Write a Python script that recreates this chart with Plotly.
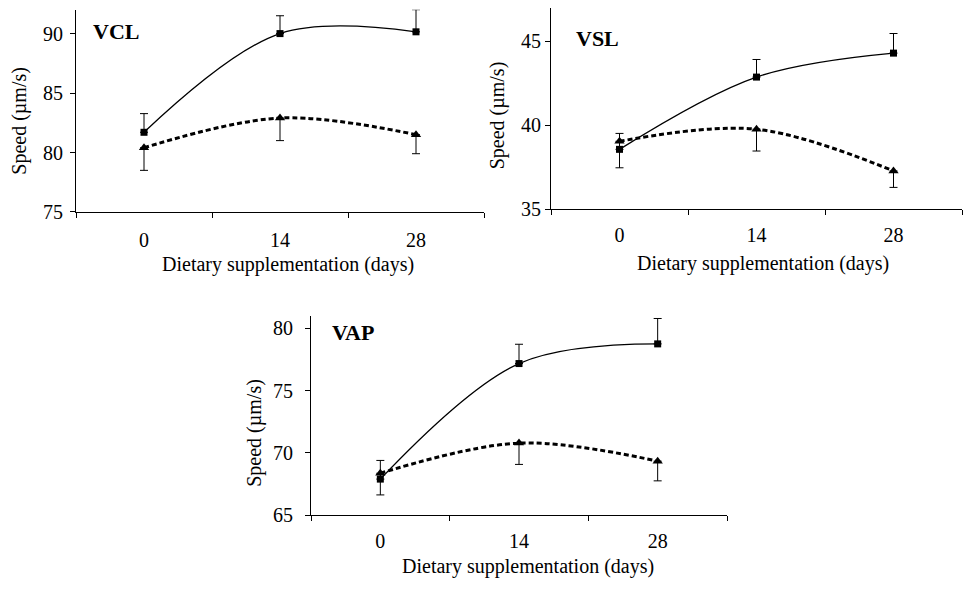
import plotly.graph_objects as go

days = ["0", "14", "28"]

vcl_sq = [81.7, 90.0, 90.15]
vcl_sq_err = [1.57, 1.5, 1.86]
vcl_tri = [80.4, 82.9, 81.5]
vcl_tri_err = [1.9, 1.9, 1.6]

vsl_sq = [38.56, 42.87, 44.3]
vsl_sq_err = [0.95, 1.05, 1.17]
vsl_tri = [39.04, 39.76, 37.27]
vsl_tri_err = [1.58, 1.3, 0.98]

vap_sq = [67.9, 77.18, 78.76]
vap_sq_err = [1.5, 1.55, 2.04]
vap_tri = [68.37, 70.79, 69.34]
vap_tri_err = [1.74, 1.71, 1.58]

panels = [
    ("VCL", vcl_sq, vcl_sq_err, vcl_tri, vcl_tri_err, [75, 92]),
    ("VSL", vsl_sq, vsl_sq_err, vsl_tri, vsl_tri_err, [35, 47]),
    ("VAP", vap_sq, vap_sq_err, vap_tri, vap_tri_err, [65, 81]),
]

W, H = 963, 590
# pixel boxes: (x0, x1, ytop, ybottom)
boxes = [(76, 484, 10, 216), (551, 962, 8, 213), (311, 727, 322, 525)]
label_pos = [(116, 32), (597.5, 39), (353, 339)]
xtitle_pos = [(288, 270), (763, 268), (528, 577)]
ytitle_pos = [(20, 123), (497.5, 117), (255, 441)]
xstandoff = [10, 8, 8]
ystandoff = [3, 0, 8]


def px(x):
    return x / W


def py(y):
    return 1 - y / H


FONT = "Liberation Serif"
fig = go.Figure()
layout = dict(
    width=W, height=H, margin=dict(l=0, r=0, t=0, b=0),
    paper_bgcolor="white", plot_bgcolor="white", showlegend=False,
    font=dict(family=FONT, size=20, color="black"),
)
annotations = []
for i, (name, sq, sqe, tri, trie, yr) in enumerate(panels):
    n = "" if i == 0 else str(i + 1)
    xa, ya = "x" + n, "y" + n
    fig.add_trace(go.Scatter(
        x=days, y=sq, xaxis=xa, yaxis=ya, mode="lines+markers",
        line=dict(color="black", width=1.3, shape="spline", smoothing=1),
        marker=dict(symbol="square", size=7, color="black"),
        error_y=dict(type="data", symmetric=False, array=sqe,
                     arrayminus=[0] * len(sqe), color="black", thickness=1, width=4),
        cliponaxis=False,
    ))
    fig.add_trace(go.Scatter(
        x=days, y=tri, xaxis=xa, yaxis=ya, mode="lines+markers",
        line=dict(color="black", width=3, shape="spline", smoothing=1, dash="5px,3px"),
        marker=dict(symbol="triangle-up", size=9, color="black"),
        error_y=dict(type="data", symmetric=False, array=[0] * len(trie),
                     arrayminus=trie, color="black", thickness=1, width=4),
        cliponaxis=False,
    ))
    x0, x1, yt, yb = boxes[i]
    layout["xaxis" + n] = dict(
        domain=[px(x0), px(x1)], anchor=ya, type="category",
        range=[-0.5, 2.5], tickson="boundaries", ticks="outside", ticklen=5,
        tickcolor="black", showline=True, linecolor="black", linewidth=1,
        showgrid=False, zeroline=False, tickfont=dict(size=20),
        ticklabelstandoff=xstandoff[i], fixedrange=True,
    )
    layout["yaxis" + n] = dict(
        domain=[py(yb), py(yt)], anchor=xa, range=yr, dtick=5,
        ticks="outside", ticklen=5, tickcolor="black", showline=True,
        linecolor="black", linewidth=1, showgrid=False, zeroline=False,
        tickfont=dict(size=20), ticklabelstandoff=ystandoff[i], fixedrange=True,
    )
    lx, ly = label_pos[i]
    annotations.append(dict(text="<b>%s</b>" % name, x=px(lx), y=py(ly),
                            xref="paper", yref="paper", showarrow=False,
                            font=dict(size=22), xanchor="center", yanchor="middle"))
    tx, ty = xtitle_pos[i]
    annotations.append(dict(text="Dietary supplementation (days)", x=px(tx), y=py(ty),
                            xref="paper", yref="paper", showarrow=False,
                            font=dict(size=20), xanchor="center", yanchor="middle"))
    sx, sy = ytitle_pos[i]
    annotations.append(dict(text="Speed (µm/s)", x=px(sx), y=py(sy),
                            xref="paper", yref="paper", showarrow=False, textangle=-90,
                            font=dict(size=20), xanchor="center", yanchor="middle"))

layout["annotations"] = annotations
fig.update_layout(**layout)

post = (
    "document.documentElement.style.margin='0px';"
    "document.documentElement.style.overflow='hidden';"
    "document.body.style.margin='0px';"
    "document.body.style.overflow='hidden';"
    "var gd=document.getElementById('{plot_id}');"
    "gd.style.position='fixed';gd.style.left='0px';gd.style.top='0px';"
    "try{var vw=window.innerWidth||963,vh=window.innerHeight||590;"
    "if(Math.abs(vw-963)>1||Math.abs(vh-590)>1){"
    "gd.style.width=vw+'px';gd.style.height=vh+'px';"
    "Plotly.relayout(gd,{width:vw,height:vh});}}catch(e){}"
)
fig.write_html(
    "out.html",
    config={"displayModeBar": False, "staticPlot": True},
    post_script=post,
)
